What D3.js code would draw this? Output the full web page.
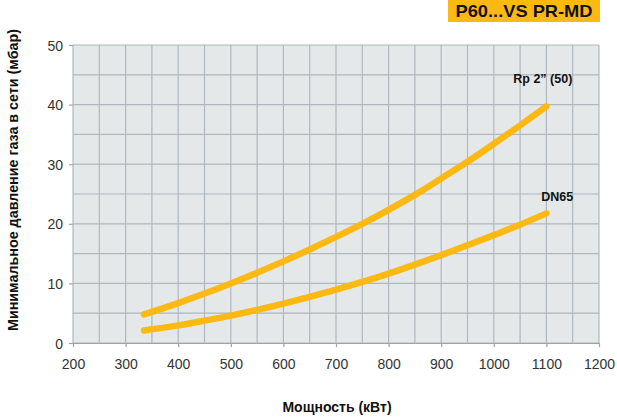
<!DOCTYPE html>
<html>
<head>
<meta charset="utf-8">
<script src="https://cdn.jsdelivr.net/npm/d3@7"></script>
<style>
html,body{margin:0;padding:0;background:#fff;}
svg{display:block;font-family:"Liberation Sans",Arial,sans-serif;}
</style>
</head>
<body>
<svg id="chart" width="617" height="417"></svg>
<script>
const title = "P60...VS PR-MD";
const xTitle = "Мощность (кВт)";
const yTitle = "Минимальное давление газа в сети (мбар)";
const xTicks = [200,300,400,500,600,700,800,900,1000,1100,1200];
const yTicks = [0,10,20,30,40,50];
const seriesNames = ["Rp 2\u201D (50)", "DN65"];
const power = [335,400,450,500,550,600,650,700,750,800,850,900,950,1000,1050,1100];
const rp2 =   [4.8,6.7,8.3,10.0,11.8,13.7,15.7,17.8,20.0,22.35,24.85,27.6,30.4,33.4,36.5,39.7];
const dn65 =  [2.1,2.95,3.75,4.6,5.55,6.6,7.75,8.95,10.25,11.65,13.15,14.75,16.4,18.1,19.85,21.75];

const svg = d3.select("#chart");
const L = 73, R = 599, T = 45, B = 343;
const x = d3.scaleLinear().domain([200,1200]).range([L,R]);
const y = d3.scaleLinear().domain([0,50]).range([B,T]);

// title box
const tb = svg.append("g");
tb.append("rect").attr("x",448).attr("y",0).attr("width",152).attr("height",22).attr("fill","#FDB913");
tb.append("text").attr("x",524).attr("y",17).attr("text-anchor","middle")
  .attr("font-size",17).attr("font-weight","bold").attr("fill","#111")
  .attr("textLength",137).attr("lengthAdjust","spacingAndGlyphs").text(title);

// plot background
svg.append("rect").attr("x",L).attr("y",T).attr("width",R-L).attr("height",B-T).attr("fill","#E5E8E9");

// grid
const gx = d3.range(200,1201,50), gy = d3.range(0,51,5);
svg.append("g").selectAll("line").data(gx).join("line")
  .attr("x1",d=>x(d)).attr("x2",d=>x(d)).attr("y1",T).attr("y2",B)
  .attr("stroke","#AEB8BE").attr("stroke-width",1.2);
svg.append("g").selectAll("line").data(gy).join("line")
  .attr("x1",L).attr("x2",R).attr("y1",d=>y(d)).attr("y2",d=>y(d))
  .attr("stroke","#AEB8BE").attr("stroke-width",1.2);

// axes
const fmt = d3.format("d");
const xAxis = svg.append("g").attr("transform",`translate(0,${B})`)
  .call(d3.axisBottom(x).tickValues(xTicks).tickFormat(fmt).tickSize(4).tickSizeOuter(0).tickPadding(12));
const yAxis = svg.append("g").attr("transform",`translate(${L},0)`)
  .call(d3.axisLeft(y).tickValues(yTicks).tickFormat(fmt).tickSize(4).tickSizeOuter(0).tickPadding(6));
[xAxis,yAxis].forEach(a=>{
  a.select(".domain").attr("stroke","#9AA4AA").attr("stroke-width",1.2);
  a.selectAll(".tick line").attr("stroke","#9AA4AA").attr("stroke-width",1.2);
  a.selectAll("text").attr("font-size",14).attr("fill","#333").attr("font-family","'Liberation Sans',Arial,sans-serif");
});
yAxis.select(".domain").remove();
yAxis.selectAll(".tick text").attr("dy","0.36em");

// lines
const line = d3.line().x((d,i)=>x(power[i])).y(d=>y(d)).curve(d3.curveMonotoneX);
[rp2, dn65].forEach(s=>{
  svg.append("path").datum(s).attr("d",line).attr("fill","none")
    .attr("stroke","#FDB913").attr("stroke-width",6.5)
    .attr("stroke-linecap","round").attr("stroke-linejoin","round");
});

// series labels
const labPos = [{xv:1037,yv:43.6},{xv:1090,yv:23.8}];
seriesNames.forEach((n,i)=>{
  svg.append("text").attr("x",x(labPos[i].xv)).attr("y",y(labPos[i].yv))
    .attr("font-size",12.5).attr("font-weight","bold").attr("fill","#111").text(n);
});

// axis titles
svg.append("text").attr("x",337).attr("y",412).attr("text-anchor","middle")
  .attr("font-size",14).attr("font-weight","bold").attr("fill","#111").text(xTitle);
svg.append("text").attr("transform","translate(18,180) rotate(-90)").attr("text-anchor","middle")
  .attr("font-size",14).attr("font-weight","bold").attr("fill","#111")
  .attr("textLength",302).attr("lengthAdjust","spacingAndGlyphs").text(yTitle);
</script>
</body>
</html>
